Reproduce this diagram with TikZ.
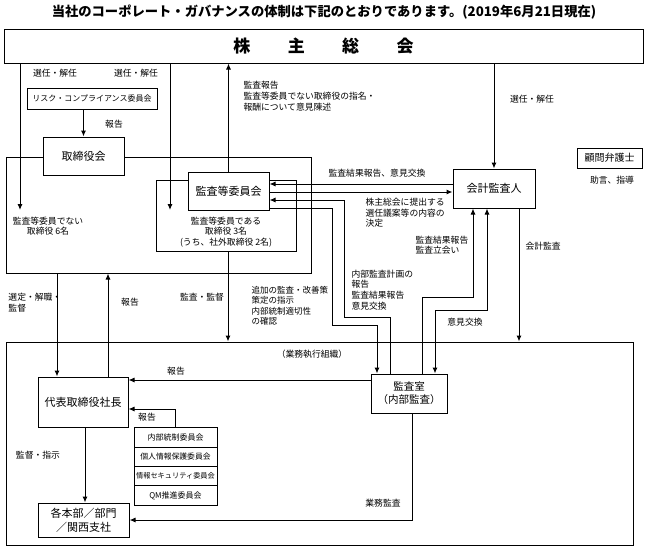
\documentclass[tikz,border=0pt]{standalone}
\usepackage{fontspec}
\setmainfont{Noto Sans CJK JP}
\usetikzlibrary{arrows.meta}
\begin{document}
\begin{tikzpicture}[x=1pt,y=-1pt,line width=1pt,
  box/.style={draw,fill=white,inner sep=0pt,align=center,font=\fontsize{11}{14}\selectfont},
  frame/.style={draw,inner sep=0pt},
  lbl/.style={inner sep=0pt,align=left,font=\fontsize{8.8}{10.6}\selectfont},
  clbl/.style={inner sep=0pt,align=center,font=\fontsize{8.8}{10.6}\selectfont},
  arr/.style={-{Latex[length=6pt,width=5pt]}},
  arrb/.style={{Latex[length=6pt,width=5pt]}-{Latex[length=6pt,width=5pt]}},
  com/.style={draw,fill=white,inner sep=0pt,minimum width=83pt,minimum height=19.3pt}]
\useasboundingbox (0,0) rectangle (648,547);

% title
\node[inner sep=0pt,font=\bfseries\fontsize{13.3}{15}\selectfont] (title) at (324,12) {当社のコーポレート・ガバナンスの体制は下記のとおりであります。(2019年6月21日現在)};

% frames
\node[frame,minimum width=305pt,minimum height=116pt] (outerTori) at (158.5,215) {};
\node[frame,minimum width=140pt,minimum height=71pt] (kansaWide) at (226,215.5) {};
\node[frame,minimum width=627pt,minimum height=203pt] (gyomu) at (319.5,443.5) {};

% boxes
\node[box,minimum width=639pt,minimum height=34pt,font=\bfseries\fontsize{17}{20}\selectfont] (kabu) at (323.5,46) {株\hspace{2.2em}主\hspace{2.2em}総\hspace{2.2em}会};
\node[box,minimum width=130pt,minimum height=21pt,font=\fontsize{8}{10}\selectfont] (risk) at (92,98.5) {リスク・コンプライアンス委員会};
\node[box,minimum width=81pt,minimum height=38pt] (tori) at (83.5,156) {取締役会};
\node[box,minimum width=81pt,minimum height=38pt] (kansa) at (228.5,191) {監査等委員会};
\node[box,minimum width=82pt,minimum height=39pt] (kaikei) at (494,188.5) {会計監査人};
\node[box,minimum width=65pt,minimum height=20pt,font=\fontsize{10}{12}\selectfont] (komon) at (609.5,158) {顧問弁護士};
\node[box,minimum width=76pt,minimum height=39pt,font=\fontsize{10.5}{13}\selectfont] (shitsu) at (409,393.5) {監査室\\（内部監査）};
\node[box,minimum width=90pt,minimum height=50pt] (daihyo) at (83,402) {代表取締役社長};
\node[box,minimum width=91pt,minimum height=34pt] (honbu) at (83.5,520) {各本部／部門\\／関西支社};
\node[com,font=\fontsize{8}{10}\selectfont] (c1) at (175.5,437.6) {内部統制委員会};
\node[com,font=\fontsize{7.8}{10}\selectfont] (c2) at (175.5,456.9) {個人情報保護委員会};
\node[com,font=\fontsize{7.2}{10}\selectfont] (c3) at (175.5,476.2) {情報セキュリティ委員会};
\node[com,font=\fontsize{8}{10}\selectfont] (c4) at (175.5,495.5) {QM推進委員会};

% helper coordinates
\coordinate (a20) at (20,210);
\coordinate (a170) at (170,210);
\coordinate (y184) at (0,184);
\coordinate (y192) at (0,192);
\coordinate (p1) at (390,317);
\coordinate (p2) at (344,200);
\coordinate (q2) at (332,208);
\coordinate (q1) at (377,325);
\coordinate (r1) at (422,297);
\coordinate (r2) at (473,297);
\coordinate (s1) at (435,310);
\coordinate (s2) at (487,310);
\coordinate (x519) at (519,0);
\coordinate (x228) at (228,0);
\coordinate (x57) at (57,0);
\coordinate (x108) at (108,0);
\coordinate (y380) at (0,380);
\coordinate (k1) at (175,409);
\coordinate (x85) at (85,0);
\coordinate (g1) at (412,520);

% connectors
\draw[arr] (kabu.south -| a20) -- (a20);
\draw[arr] (kabu.south -| a170) -- (a170);
\draw[arr] (kansa.north) -- (kansa.north |- kabu.south);
\draw[arr] (kaikei.north |- kabu.south) -- (kaikei.north);
\draw[arr] (tori.north |- risk.south) -- (tori.north);
\draw[arr] (kaikei.west |- y184) -- (kansa.east |- y184);
\draw[arr] (kansa.east |- y192) -- (kaikei.west |- y192);
\draw[arr] (shitsu.north -| p1) -- (p1) -| (p2) -- (kansa.east |- p2);
\draw[arr] (kansa.east |- q2) -- (q2) |- (q1) -- (shitsu.north -| q1);
\draw[arr] (shitsu.north -| r1) -- (r1) -- (r2) -- (kaikei.south -| r2);
\draw[arrb] (shitsu.north -| s1) -- (s1) -- (s2) -- (kaikei.south -| s2);
\draw[arr] (kaikei.south -| x519) -- (gyomu.north -| x519);
\draw[arr] (kansaWide.south -| x228) -- (gyomu.north -| x228);
\draw[arr] (outerTori.south -| x57) -- (daihyo.north -| x57);
\draw[arr] (daihyo.north -| x108) -- (outerTori.south -| x108);
\draw[arr] (shitsu.west |- y380) -- (daihyo.east |- y380);
\draw[arr] (c1.north -| k1) -- (k1) -- (daihyo.east |- k1);
\draw[arr] (daihyo.south -| x85) -- (honbu.north -| x85);
\draw[arr] (shitsu.south -| g1) -- (g1) -- (honbu.east |- g1);

% labels
\node[clbl] (l1) at (55,73) {選任・解任};
\node[clbl] (l2) at (136,73) {選任・解任};
\node[clbl] (l3) at (114,124) {報告};
\node[lbl,anchor=north west] (l4) at (243,81) {監査報告\\監査等委員でない取締役の指名・\\報酬について意見陳述};
\node[clbl] (l5) at (532,99) {選任・解任};
\node[clbl] (l6) at (377,173) {監査結果報告、意見交換};
\node[lbl,anchor=north west] (l7) at (365,197.5) {株主総会に提出する\\選任議案等の内容の\\決定};
\node[clbl] (l8) at (48,226) {監査等委員でない\\取締役 6名};
\node[clbl] (l9) at (226,232) {監査等委員である\\取締役 3名\\(うち、社外取締役 2名)};
\node[lbl,anchor=north west] (l10) at (415,235.5) {監査結果報告\\監査立会い};
\node[lbl,anchor=west] (l11) at (525,246) {会計監査};
\node[clbl] (l12) at (612,180) {助言、指導};
\node[lbl,anchor=north west] (l13) at (8,292.5) {選定・解職・\\監督};
\node[clbl] (l14) at (130,302) {報告};
\node[clbl] (l15) at (202,297) {監査・監督};
\node[lbl,anchor=north west,font=\fontsize{8.5}{10.6}\selectfont] (l16) at (251,285.5) {追加の監査・改善策\\策定の指示\\内部統制適切性\\の確認};
\node[lbl,anchor=north west] (l17) at (351,269.5) {内部監査計画の\\報告\\監査結果報告\\意見交換};
\node[clbl] (l18) at (465,322) {意見交換};
\node[clbl] (l19) at (312,354) {（業務執行組織）};
\node[clbl] (l20) at (176,371) {報告};
\node[clbl] (l21) at (147,417) {報告};
\node[clbl] (l22) at (38,455) {監督・指示};
\node[clbl] (l23) at (383,503) {業務監査};
\end{tikzpicture}
\end{document}
